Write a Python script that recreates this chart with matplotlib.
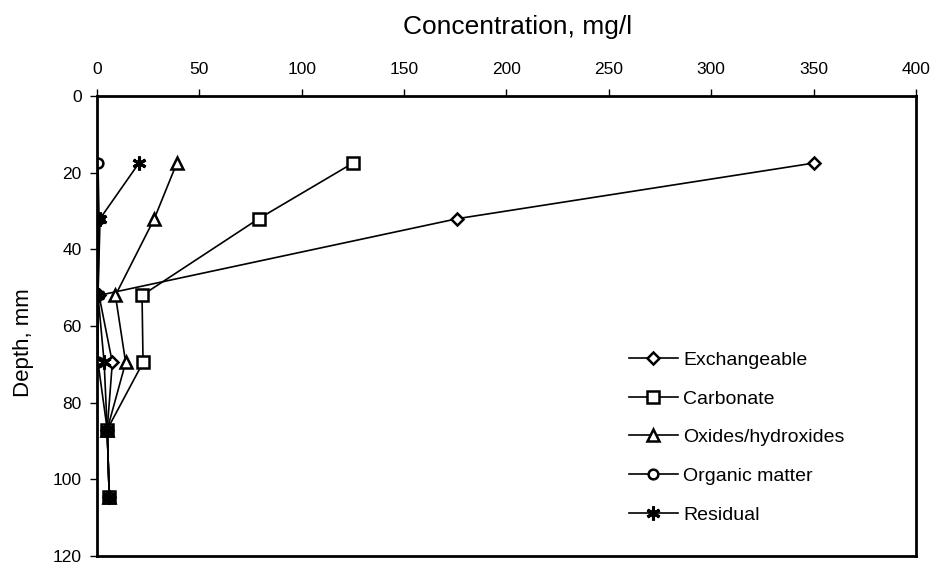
import matplotlib
matplotlib.use("Agg")
import matplotlib.pyplot as plt

plt.rcParams['font.family'] = ['Liberation Sans', 'DejaVu Sans']

# %% Data
depth = [17.5, 32, 52, 69.5, 87, 104.5]  # [mm]

exchangeable = [350, 176, 1, 7.5, 5, 6]
carbonate = [125, 79, 22, 22.5, 5, 6]
oxides = [39, 28, 9, 14, 5, 6]
organic = [0.5, 1, 0.5, 0.5, 5, 6]
residual = [20.5, 1.5, 0.5, 3.5, 5, 6]

labels = ['Exchangeable', 'Carbonate', 'Oxides/hydroxides', 'Organic matter', 'Residual']
x_ticks = [0, 50, 100, 150, 200, 250, 300, 350, 400]
y_ticks = [0, 20, 40, 60, 80, 100, 120]

# %% Plot
fig = plt.figure(figsize=(9.37, 5.68), dpi=100)
ax = fig.add_axes([0.1035, 0.021, 0.8741, 0.810])

style = dict(color='black', lw=1.2, mfc='white', mec='black', mew=1.8)
ax.plot(exchangeable, depth, marker='D', ms=6.5, label=labels[0], **style)
ax.plot(carbonate, depth, marker='s', ms=8, label=labels[1], **style)
ax.plot(oxides, depth, marker='^', ms=8.5, label=labels[2], **style)
ax.plot(organic, depth, marker='o', ms=7, label=labels[3], **style)
ax.plot(residual, depth, marker=(6, 2, 0), ms=10, label=labels[4],
        color='black', lw=1.2, mec='black', mew=2.2)

ax.set_xlim(0, 400)
ax.set_ylim(120, 0)
ax.set_xticks(x_ticks)
ax.set_yticks(y_ticks)
ax.xaxis.tick_top()
ax.xaxis.set_label_position('top')
ax.tick_params(direction='out', length=5, width=1, labelsize=12.5, pad=6)
ax.tick_params(axis='x', pad=9)
for s in ax.spines.values():
    s.set_linewidth(2)

ax.set_xlabel('Concentration, mg/l', fontsize=19)
ax.xaxis.set_label_coords(0.514, 1.135)
ax.set_ylabel('Depth, mm', fontsize=16)
ax.yaxis.set_label_coords(-0.0765, 0.463)

ax.legend(loc='center left', bbox_to_anchor=(0.6713, 0.2298),
          bbox_transform=fig.transFigure, frameon=False, fontsize=14,
          handlelength=2.5, handletextpad=0.3, labelspacing=1.08,
          borderpad=0, borderaxespad=0)

fig.savefig('out.png', dpi=100)
